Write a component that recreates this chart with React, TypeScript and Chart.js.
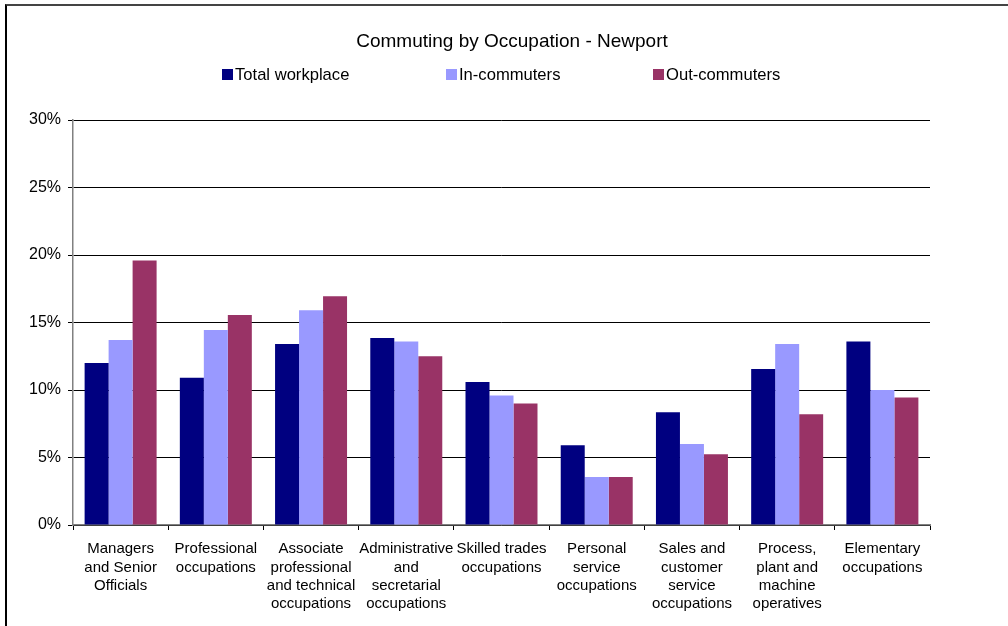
import React, { useEffect, useRef } from "react";
import { Chart, registerables } from "chart.js";

Chart.register(...registerables);

const TITLE = "Commuting by Occupation - Newport";
const categories: string[][] = [
  ["Managers", "and Senior", "Officials"],
  ["Professional", "occupations"],
  ["Associate", "professional", "and technical", "occupations"],
  ["Administrative", "and", "secretarial", "occupations"],
  ["Skilled trades", "occupations"],
  ["Personal", "service", "occupations"],
  ["Sales and", "customer", "service", "occupations"],
  ["Process,", "plant and", "machine", "operatives"],
  ["Elementary", "occupations"],
];
const seriesNames = ["Total workplace", "In-commuters", "Out-commuters"];
const totalWorkplace = [12.0, 10.9, 13.4, 13.85, 10.6, 5.9, 8.35, 11.55, 13.6];
const inCommuters = [13.7, 14.45, 15.9, 13.6, 9.6, 3.55, 6.0, 13.4, 10.0];
const outCommuters = [19.6, 15.55, 16.95, 12.5, 9.0, 3.55, 5.25, 8.2, 9.45];
const colors = ["#000080", "#9999FF", "#993366"];
const yTicks = [0, 5, 10, 15, 20, 25, 30];

const FONT = "'Liberation Sans', Arial, sans-serif";

const titleLegendPlugin = {
  id: "titleLegend",
  afterDraw(chart: any) {
    const ctx = chart.ctx;
    ctx.save();
    ctx.fillStyle = "#000";
    ctx.font = `19px ${FONT}`;
    ctx.textAlign = "center";
    ctx.textBaseline = "middle";
    ctx.fillText(TITLE, 512, 42);
    const boxX = [222, 446, 653];
    ctx.font = `16.6px ${FONT}`;
    ctx.textAlign = "left";
    chart.data.datasets.forEach((ds: any, i: number) => {
      ctx.fillStyle = ds.backgroundColor;
      ctx.fillRect(boxX[i], 69, 11, 11);
      ctx.fillStyle = "#000";
      ctx.fillText(ds.label, boxX[i] + 13, 75);
    });
    ctx.restore();
  },
};

export default function App() {
  const ref = useRef<HTMLCanvasElement | null>(null);
  useEffect(() => {
    if (!ref.current) return;
    const chart = new Chart(ref.current, {
      type: "bar",
      data: {
        labels: categories,
        datasets: [totalWorkplace, inCommuters, outCommuters].map((d, i) => ({
          label: seriesNames[i],
          data: d,
          backgroundColor: colors[i],
          borderWidth: 0,
          categoryPercentage: 0.756,
          barPercentage: 1,
        })),
      },
      options: {
        animation: false,
        responsive: false,
        devicePixelRatio: 1,
        layout: { padding: { left: 10, right: 78, top: 120, bottom: 0 } },
        plugins: {
          legend: { display: false },
          title: { display: false },
          tooltip: { enabled: false },
        },
        scales: {
          x: {
            afterFit: (s: any) => {
              s.height = 101;
            },
            grid: {
              display: true,
              drawOnChartArea: false,
              offset: true,
              tickLength: 5,
              color: "#000",
            },
            border: { color: "#808080", width: 1.5 },
            ticks: {
              color: "#000",
              font: { family: FONT, size: 15, lineHeight: 1.22 },
              maxRotation: 0,
              minRotation: 0,
              autoSkip: false,
              padding: 10,
            },
          },
          y: {
            min: 0,
            max: 30,
            afterFit: (s: any) => {
              s.width = 63;
            },
            afterBuildTicks: (s: any) => {
              s.ticks = yTicks.map((v) => ({ value: v }));
            },
            grid: { color: "#000", lineWidth: 1, tickLength: 5 },
            border: { color: "#808080", width: 1.5 },
            ticks: {
              color: "#000",
              font: { family: FONT, size: 16 },
              padding: 7,
              callback: (v: any) => `${v}%`,
            },
          },
        },
      },
      plugins: [titleLegendPlugin],
    });
    return () => chart.destroy();
  }, []);
  return (
    <div
      style={{
        position: "absolute",
        left: 0,
        top: 0,
        width: 1008,
        height: 626,
        overflow: "hidden",
        background: "#fff",
      }}
    >
      <canvas ref={ref} width={1008} height={626} style={{ position: "absolute", left: 0, top: 0 }} />
      <div
        style={{
          position: "absolute",
          left: 5,
          top: 4,
          width: 1100,
          height: 700,
          border: "2px solid #000",
          borderTopColor: "#444",
          boxSizing: "border-box",
          pointerEvents: "none",
        }}
      />
    </div>
  );
}
